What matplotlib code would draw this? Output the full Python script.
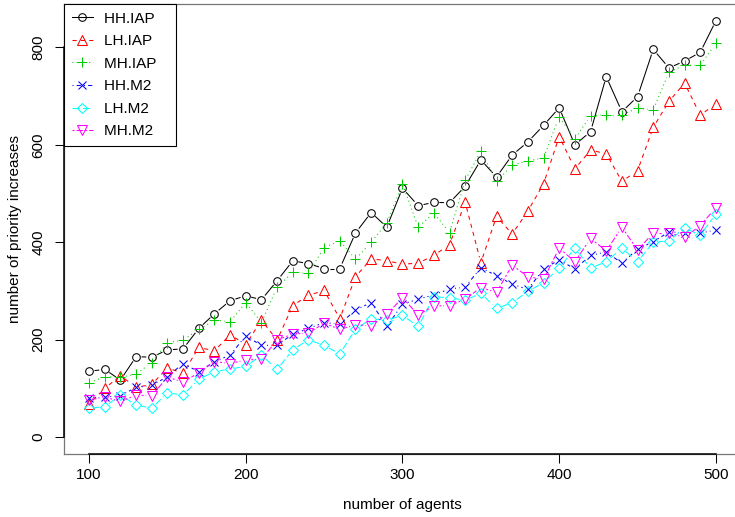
import numpy as np
import matplotlib
matplotlib.use("Agg")
import matplotlib.pyplot as plt
from matplotlib.collections import LineCollection
from matplotlib.lines import Line2D

plt.rcParams['font.family'] = ['Liberation Sans', 'DejaVu Sans']

agents = list(range(100, 501, 10))

hh_iap = [135, 139, 117, 165, 164, 179, 181, 223, 253, 280, 290, 282, 321, 362, 356, 346, 346,
          419, 461, 431, 511, 475, 482, 481, 515, 569, 534, 579, 606, 640, 676, 600, 627, 740,
          668, 699, 796, 758, 772, 790, 855]
lh_iap = [68, 100, 126, 102, 108, 142, 131, 184, 177, 210, 190, 240, 199, 270, 291, 301, 243,
          329, 366, 362, 355, 357, 373, 395, 482, 358, 453, 417, 464, 520, 617, 551, 589, 582,
          525, 547, 636, 689, 727, 661, 684]
mh_iap = [111, 124, 123, 129, 153, 194, 199, 221, 240, 237, 276, 235, 308, 338, 337, 389, 403,
          365, 400, 440, 520, 431, 460, 420, 527, 587, 525, 558, 567, 573, 658, 612, 660, 662,
          662, 675, 672, 749, 764, 763, 809]
hh_m2 = [80, 82, 85, 102, 106, 124, 151, 134, 155, 168, 208, 188, 189, 211, 223, 235, 232,
         261, 276, 227, 273, 283, 292, 304, 308, 348, 331, 314, 303, 345, 364, 345, 373, 380,
         357, 386, 401, 421, 420, 419, 425]
lh_m2 = [60, 62, 86, 66, 59, 91, 86, 119, 134, 140, 145, 168, 139, 179, 200, 188, 171, 221,
         243, 240, 250, 227, 288, 286, 281, 295, 264, 276, 299, 317, 347, 388, 347, 360, 388,
         360, 400, 403, 429, 415, 458]
mh_m2 = [76, 82, 73, 86, 85, 123, 113, 132, 155, 151, 158, 160, 199, 212, 213, 234, 221, 230,
         229, 252, 286, 251, 269, 270, 283, 307, 297, 353, 329, 324, 388, 360, 408, 382, 431,
         384, 419, 419, 410, 434, 471]

labels = ["HH.IAP", "LH.IAP", "MH.IAP", "HH.M2", "LH.M2", "MH.M2"]
series = [hh_iap, lh_iap, mh_iap, hh_m2, lh_m2, mh_m2]
colors = ["black", "#FF0000", "#00CD00", "#0000FF", "#00FFFF", "#FF00FF"]
markers = ["o", "^", "+", "x", "D", "v"]
msizes = [5.5, 6.5, 7.5, 6, 5, 6.5]
# R lty 1..6
styles = ["-", (0, (4, 4)), (0, (1, 3)), (0, (1, 3, 4, 3)), (0, (7, 3)), (0, (2, 2, 6, 2))]

fig = plt.figure(figsize=(7.35, 5.17), dpi=100)
ax = fig.add_axes([64 / 735, 63.3 / 517, 677 / 735, 449.7 / 517])
ax.set_xlim(84, 516)
ax.set_ylim(-34.2, 889.2)

gap = 5.5  # pixels of gap around each point (type = "b")
fig.canvas.draw()
inv = ax.transData.inverted()
for vals, c, m, ms, ls in zip(series, colors, markers, msizes, styles):
    pts = ax.transData.transform(np.column_stack([agents, vals]))
    segs = []
    for p0, p1 in zip(pts[:-1], pts[1:]):
        d = p1 - p0
        L = np.hypot(*d)
        if L <= 2 * gap:
            continue
        u = d / L
        segs.append(inv.transform([p0 + u * gap, p1 - u * gap]))
    ax.add_collection(LineCollection(segs, colors=c, linewidths=0.75, linestyles=[ls]))
    ax.plot(agents, vals, linestyle="none", marker=m, markersize=ms, mfc="none",
            mec=c, mew=0.75)

for s in ax.spines.values():
    s.set_color("#777777")
    s.set_linewidth(0.9)

ax.set_xticks([100, 200, 300, 400, 500])
ax.set_yticks([0, 200, 400, 600, 800])
ax.tick_params(direction="out", length=6.5, width=0.75, labelsize=11, color="black")
ax.tick_params(axis="x", pad=4)
ax.tick_params(axis="y", pad=7)
for t in ax.get_yticklabels():
    t.set_rotation(90)
    t.set_va("center")

# axis lines as in base R
ax.plot([100, 500], [-34.2, -34.2], color="black", lw=1.1, clip_on=False, zorder=5)
ax.plot([84, 84], [0, 800], color="black", lw=1.1, clip_on=False, zorder=5)

ax.set_xlabel("number of agents", fontsize=11)
ax.set_ylabel("number of priority increases", fontsize=11)
ax.xaxis.set_label_coords(0.5, -0.114)
ax.xaxis.label.set_va("center")
ax.yaxis.set_label_coords(-0.072, 0.5)
ax.yaxis.label.set_va("center")

handles = [Line2D([0], [0], color=c, lw=0.75, linestyle=ls, marker=m, markersize=ms,
                  mfc="none", mec=c, mew=0.75)
           for c, m, ms, ls in zip(colors, markers, msizes, styles)]
leg = ax.legend(handles, [l + "   " for l in labels], loc="upper left", bbox_to_anchor=(0, 1),
                borderaxespad=0, fancybox=False, framealpha=1, edgecolor="black",
                fontsize=11, handlelength=1.4, handletextpad=0.7, labelspacing=0.56,
                borderpad=0.5)
leg.get_frame().set_linewidth(0.8)

fig.savefig("out.png", dpi=100)
